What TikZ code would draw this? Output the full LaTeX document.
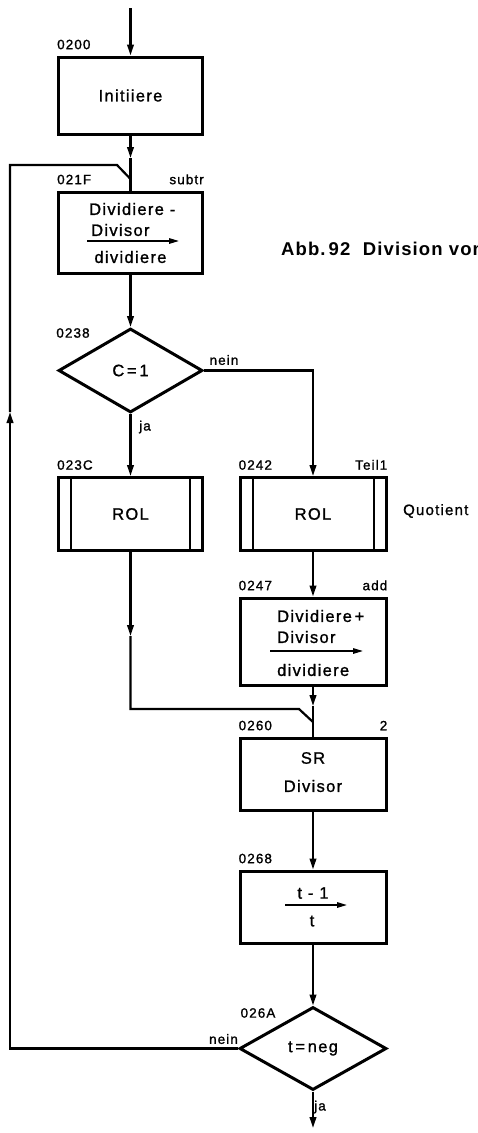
\documentclass[tikz,border=0pt]{standalone}
\usepackage{fontspec}
\setmainfont{Liberation Sans}[LetterSpace=8,FakeBold=1.2]
\newfontfamily\capfont{Liberation Sans}[LetterSpace=6]
\usetikzlibrary{shapes.geometric,arrows.meta}
\tikzset{
  box/.style={draw, line width=3pt, minimum width=144pt, inner sep=0pt},
  decision/.style={draw, diamond, line width=3pt, inner sep=0pt, minimum width=144pt, minimum height=84pt, font=\fontsize{16.5}{16.5}\selectfont},
  flow/.style={line width=2.2pt},
  arr/.style={flow, -{Triangle[length=11pt,width=6.5pt]}},
  lbl/.style={font=\fontsize{13.5}{13.5}\selectfont, inner sep=0pt},
  txt/.style={font=\fontsize{16.5}{16.5}\selectfont, inner sep=0pt},
  tarr/.style={line width=1.5pt, -{Triangle[length=10pt,width=5.5pt]}},
  inner/.style={line width=2pt},
}
\begin{document}
\begin{tikzpicture}[x=1pt,y=-1pt]
\useasboundingbox (0,0) rectangle (477,1133);
\clip (0,0) rectangle (477,1133);
% boxes
\node[box, minimum height=77pt, txt] (init) at (130.5,95.5) {Initiiere};
\node[box, minimum height=81pt] (sub) at (130.5,232.5) {};
\node[decision] (d1) at (130.5,370.5) {C\,=\,1};
\node[box, minimum height=73pt, txt] (rol1) at (130.5,514) {ROL};
\node[box, minimum height=73pt, minimum width=146pt, txt] (rol2) at (313,514) {ROL};
\node[box, minimum height=87pt, minimum width=146pt] (add) at (313,641.5) {};
\node[box, minimum height=72pt, minimum width=146pt] (sr) at (313,774) {};
\node[box, minimum height=72pt, minimum width=146pt] (dec) at (313,907) {};
\node[decision, minimum width=147pt, minimum height=83pt] (d2) at (313,1048.5) {t\,=\,neg};
% subroutine side lines
\draw[inner] ([xshift=14pt]rol1.north west) -- ([xshift=14pt]rol1.south west);
\draw[inner] ([xshift=-14pt]rol1.north east) -- ([xshift=-14pt]rol1.south east);
\draw[inner] ([xshift=14pt]rol2.north west) -- ([xshift=14pt]rol2.south west);
\draw[inner] ([xshift=-14pt]rol2.north east) -- ([xshift=-14pt]rol2.south east);
% box texts
\node[txt, anchor=west] (s1) at (89,209) {Dividiere -};
\node[txt, anchor=west] (s2) at (91,230) {Divisor};
\coordinate (s3a) at (87,241); \coordinate (s3b) at (179,241);
\draw[tarr] (s3a) -- (s3b);
\node[txt] (s4) at (130.5,257) {dividiere};
\node[txt, anchor=west] (a1) at (277,616) {Dividiere\,+};
\node[txt, anchor=west] (a2) at (277,637) {Divisor};
\coordinate (a3a) at (270,651); \coordinate (a3b) at (363,651);
\draw[tarr] (a3a) -- (a3b);
\node[txt, anchor=west] (a4) at (277,670) {dividiere};
\node[txt] (r1) at (313,758) {SR};
\node[txt] (r2) at (313,786) {Divisor};
\node[txt] (t1) at (313,893) {t - 1};
\coordinate (t2a) at (285,905); \coordinate (t2b) at (347,905);
\draw[tarr] (t2a) -- (t2b);
\node[txt] (t3) at (312,921) {t};
% labels
\node[lbl, anchor=south west] (l0200) at ([yshift=6pt]init.north west) {0200};
\node[lbl, anchor=south west] (l021F) at ([yshift=6pt]sub.north west) {021F};
\node[lbl, anchor=south east] (lsubtr) at ([yshift=6pt]sub.north east) {subtr};
\node[lbl] (l0238) at (73,333) {0238};
\node[lbl] (lnein1) at (224,360) {nein};
\node[lbl] (lja1) at (145,427) {ja};
\node[lbl, anchor=south west] (l023C) at ([yshift=6pt]rol1.north west) {023C};
\node[lbl, anchor=south west] (l0242) at ([yshift=6pt]rol2.north west) {0242};
\node[lbl, anchor=south east] (lteil) at ([yshift=6pt]rol2.north east) {Teil1};
\node[lbl, anchor=west, font=\fontsize{15}{15}\selectfont] (lquot) at (403,511) {Quotient};
\node[lbl, anchor=south west] (l0247) at ([yshift=6pt]add.north west) {0247};
\node[lbl, anchor=south east] (ladd) at ([yshift=6pt]add.north east) {add};
\node[lbl, anchor=south west] (l0260) at ([yshift=6pt]sr.north west) {0260};
\node[lbl, anchor=south east] (l2) at ([yshift=6pt]sr.north east) {2};
\node[lbl, anchor=south west] (l0268) at ([yshift=6pt]dec.north west) {0268};
\node[lbl] (l026A) at (258,1013) {026A};
\node[lbl] (lnein2) at (223.5,1039) {nein};
\node[lbl] (lja2) at (320,1107) {ja};
% caption (cut off at the right edge, as in the reference)
\node[anchor=west, inner sep=0pt, font=\capfont\bfseries\fontsize{18.5}{18.5}\selectfont] (cap) at (281,249) {Abb.\,92\ \ Division von};
% connectors
\coordinate (start) at (130.5,8);
\coordinate (c1) at (130.5,158);
\coordinate (m1) at (130.5,179);
\coordinate (m1a) at (117,165);
\coordinate (lp1) at (10,165);
\coordinate (lp2) at (10,412);
\coordinate (lp3) at (10,1048.5);
\coordinate (c2) at (130.5,636);
\coordinate (m2b) at (130.5,709);
\coordinate (m2a) at (299,709);
\coordinate (m2) at (313,722);
\coordinate (c3) at (313,706);
\coordinate (stop) at (313,1128);
\draw[arr] (start) -- (init);
\draw[arr] (init) -- (c1);
\draw[flow] (c1) -- (sub);
\draw[arr] (sub) -- (d1);
\draw[arr] (d1.east) -| (rol2.north);
\draw[arr] (d1.south) -- (rol1.north);
\draw[arr] (rol2) -- (add);
\draw[arr] (add) -- (c3);
\draw[flow] (c3) -- (sr);
\draw[arr] (rol1) -- (c2);
\draw[flow] (c2) -- (m2b) -- (m2a) -- (m2);
\draw[arr] (sr) -- (dec);
\draw[arr] (dec) -- (d2);
\draw[arr] (d2.south) -- (stop);
\draw[arr] (d2.west) -- (lp3) -- (lp2);
\draw[flow] (lp2) -- (lp1) -- (m1a) -- (m1);
\end{tikzpicture}
\end{document}
